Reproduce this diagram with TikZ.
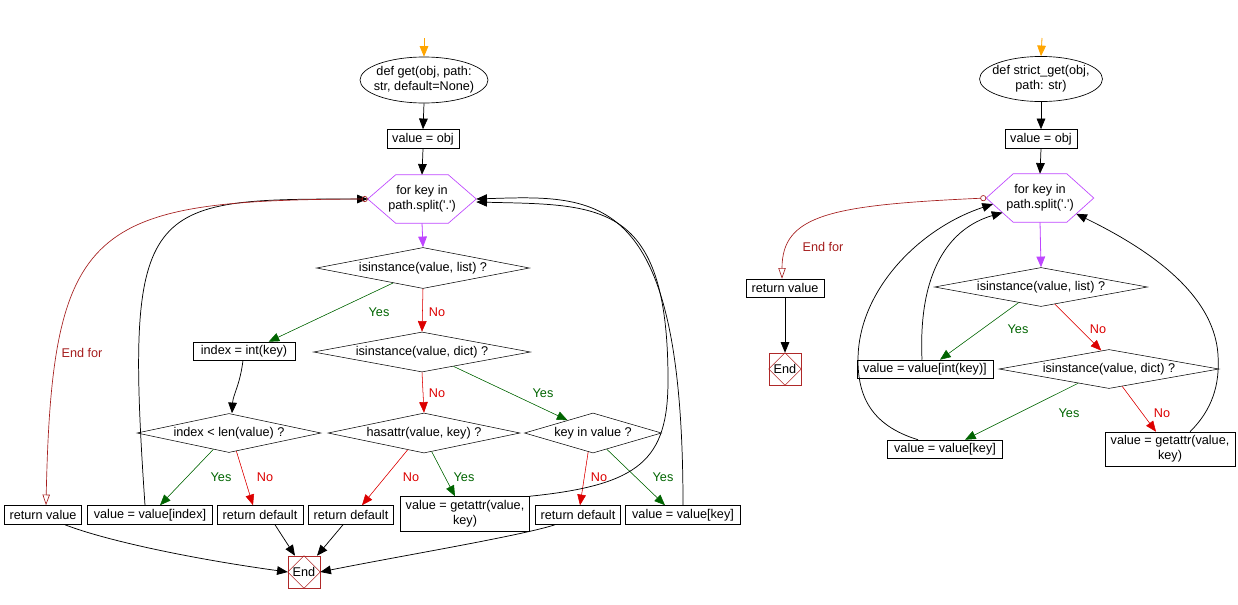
\documentclass[tikz,border=0pt]{standalone}
\usepackage{fontspec}
\setmainfont{Liberation Sans}[Ligatures=TeXOff]
\usetikzlibrary{shapes.geometric,arrows.meta,calc}
\definecolor{cOrange}{RGB}{255,165,0}
\definecolor{cPurple}{RGB}{190,70,255}
\definecolor{cGreen}{RGB}{0,100,0}
\definecolor{cRed}{RGB}{220,0,0}
\definecolor{cEndFor}{RGB}{165,30,30}
\definecolor{cEnd}{RGB}{175,40,40}
\newcommand{\pxu}[1]{#1*0.75pt}
\begin{document}
\begin{tikzpicture}[x=0.75pt,y=-0.75pt,
  every node/.style={font=\fontsize{9.5}{11.5}\selectfont},
  box/.style={draw, rectangle, inner sep=1pt, minimum height=\pxu{19}, align=center},
  dia/.style={draw, diamond, aspect=5, inner sep=0pt, align=center},
  holder/.style={rectangle, inner sep=0pt, align=center},
  endbox/.style={draw=cEnd, rectangle, inner sep=0pt, minimum size=\pxu{32}},
  arr/.style={-{Triangle[length=8pt,width=6.5pt]}, line width=0.6pt},
  garr/.style={arr, draw=cGreen, fill=cGreen, line width=0.4pt},
  rarr/.style={arr, draw=cRed, fill=cRed, line width=0.4pt},
  oarr/.style={arr, draw=cOrange, fill=cOrange},
  parr/.style={arr, draw=cPurple, fill=cPurple},
  barr/.style={arr, line width=0.55pt},
  efarr/.style={{Circle[open,length=4.5pt]}-{Triangle[open,length=8pt,width=5.5pt]}, draw=cEndFor, line width=0.5pt},
  lblg/.style={text=cGreen, inner sep=0pt},
  lblr/.style={text=cRed, inner sep=0pt},
  lble/.style={text=cEndFor, inner sep=0pt},
  hexline/.style={draw=cPurple, line width=0.5pt},
  ellline/.style={draw, line width=0.5pt}
]
\useasboundingbox (0,0) rectangle (1238,604);

% ================= LEFT =================
\coordinate (s1) at (424,38);
\node[holder, minimum width=\pxu{128}, minimum height=\pxu{46}] (start1) at (424,80) {def get(obj, path:\\str, default=None)};
\draw[ellline] (start1.center) ellipse [x radius=48pt, y radius=17.25pt];
\node[box, minimum width=\pxu{72}] (v1) at (423,139) {value = obj};
\node[holder, minimum width=\pxu{108}, minimum height=\pxu{48}] (loop1) at (422,199) {for key in\\path.split('.')};
\coordinate (loop1-tl) at ([xshift=21pt]loop1.north west);
\coordinate (loop1-tr) at ([xshift=-21pt]loop1.north east);
\coordinate (loop1-bl) at ([xshift=21pt]loop1.south west);
\coordinate (loop1-br) at ([xshift=-21pt]loop1.south east);
\draw[hexline] (loop1.west) -- (loop1-tl) -- (loop1-tr) -- (loop1.east) -- (loop1-br) -- (loop1-bl) -- cycle;

\node[dia, minimum width=\pxu{213}, minimum height=\pxu{41}] (d1) at (423,268) {isinstance(value, list) ?};
\node[dia, minimum width=\pxu{217}, minimum height=\pxu{40}] (d2) at (422,352) {isinstance(value, dict) ?};
\node[box, minimum width=\pxu{102}, minimum height=\pxu{18}] (bidx) at (244,351) {index = int(key)};
\node[dia, minimum width=\pxu{184}, minimum height=\pxu{39}] (d3) at (229,433) {index < len(value) ?};
\node[dia, minimum width=\pxu{192}, minimum height=\pxu{40}] (d4) at (424,433) {hasattr(value, key) ?};
\node[dia, minimum width=\pxu{137}, minimum height=\pxu{40}] (d5) at (593,433) {key in value ?};

\node[box, minimum width=\pxu{77}] (retv) at (43,515) {return value};
\node[box, minimum width=\pxu{125}] (vidx) at (150,515) {value = value[index]};
\node[box, minimum width=\pxu{86}] (rda) at (260,515) {return default};
\node[box, minimum width=\pxu{85}] (rdb) at (351,515) {return default};
\node[box, minimum width=\pxu{129}, minimum height=\pxu{35}] (gat) at (465,514) {value = getattr(value,\\key)};
\node[box, minimum width=\pxu{85}] (rdc) at (578,515) {return default};
\node[box, minimum width=\pxu{115}] (vkey) at (683,515) {value = value[key]};

\node[endbox] (end1) at (304,572) {};
\draw[cEnd, line width=0.4pt] (end1.north) -- (end1.east) -- (end1.south) -- (end1.west) -- cycle;
\node at (end1.center) {End};

% arrows left
\draw[oarr] (s1) -- (start1.north);
\draw[barr] (start1.south) -- (v1.north);
\draw[barr] (v1.south) -- (loop1.north);
\draw[parr] (loop1.south) -- (d1.north);
\draw[garr] ($(d1.south)!0.28!(d1.west)$) -- ($(bidx.north east)!0.26!(bidx.north west)$);
\draw[rarr] (d1.south) -- (d2.north);
\draw[barr] ($(bidx.south)+(-1,0)$) .. controls (240,385) and (233,395) .. ($(d3.north)+(3,0)$);
\draw[garr] ($(d2.south)!0.29!(d2.east)$) -- ($(d5.north)!0.37!(d5.west)$);
\draw[rarr] (d2.south) -- (d4.north);
\draw[garr] ($(d3.south)!0.17!(d3.west)$) -- ($(vidx.north)+(10,0)$);
\draw[rarr] ($(d3.south)!0.08!(d3.east)$) -- ($(rda.north)+(-7,0)$);
\draw[rarr] ($(d4.south)!0.17!(d4.west)$) -- ($(rdb.north)+(11,0)$);
\draw[garr] ($(d4.south)!0.08!(d4.east)$) -- ($(gat.north)+(-10,0)$);
\draw[rarr] ($(d5.south)!0.07!(d5.west)$) -- ($(rdc.north)+(2,0)$);
\draw[garr] ($(d5.south)!0.2!(d5.east)$) -- ($(vkey.north)+(-18,0)$);
\draw[barr] ($(rda.south)+(15,0)$) -- ($(end1.north)+(-9,0)$);
\draw[barr] ($(rdb.south)+(-8,0)$) -- ($(end1.north)+(13,0)$);
\draw[barr] ($(retv.south)+(22,0)$) .. controls (110,542) and (200,560) .. (end1.west);
\draw[barr] ($(rdc.south)+(-23,0)$) .. controls (520,536) and (400,556) .. (end1.east);
\draw[barr] ($(vidx.north)+(-5,0)$) .. controls (124,200) and (145,199) .. (loop1.west);
\draw[efarr] (loop1.west) .. controls (90,200) and (52,225) .. ($(retv.north)+(3,0)$);
\draw[barr] (gat.north east) .. controls (640,485) and (668,460) .. (668,380) .. controls (668,200) and (600,205) .. ($(loop1.east)+(0,3)$);
\draw[barr] (vkey.north) .. controls (683,190) and (600,195) .. (loop1.east);

% labels left
\node[lblg] (l1) at (379,312) {Yes};
\node[lblr] (l2) at (437,312) {No};
\node[lblr] (l3) at (437,393) {No};
\node[lblg] (l4) at (543,393) {Yes};
\node[lblg] (l5) at (221,477) {Yes};
\node[lblr] (l6) at (265,477) {No};
\node[lblr] (l7) at (411,477) {No};
\node[lblg] (l8) at (464,477) {Yes};
\node[lblr] (l9) at (599,477) {No};
\node[lblg] (l10) at (663,477) {Yes};
\node[lble] (l11) at (82,353) {End for};

% ================= RIGHT =================
\coordinate (s2) at (1042,38);
\node[holder, minimum width=\pxu{123}, minimum height=\pxu{45}] (start2) at (1041,79) {def strict\_get(obj,\\path: str)};
\draw[ellline] (start2.center) ellipse [x radius=46.1pt, y radius=16.9pt];
\node[box, minimum width=\pxu{72}] (v2) at (1041,139) {value = obj};
\node[holder, minimum width=\pxu{107}, minimum height=\pxu{48}] (loop2) at (1040,198) {for key in\\path.split('.')};
\coordinate (loop2-tl) at ([xshift=20.25pt]loop2.north west);
\coordinate (loop2-tr) at ([xshift=-20.25pt]loop2.north east);
\coordinate (loop2-bl) at ([xshift=20.25pt]loop2.south west);
\coordinate (loop2-br) at ([xshift=-20.25pt]loop2.south east);
\draw[hexline] (loop2.west) -- (loop2-tl) -- (loop2-tr) -- (loop2.east) -- (loop2-br) -- (loop2-bl) -- cycle;

\node[dia, minimum width=\pxu{213}, minimum height=\pxu{39}] (e1) at (1041,287) {isinstance(value, list) ?};
\node[dia, minimum width=\pxu{220}, minimum height=\pxu{39}] (e2) at (1109,369) {isinstance(value, dict) ?};
\node[box, minimum width=\pxu{136}, minimum height=\pxu{18}] (vik) at (925,369) {value = value[int(key)]};
\node[box, minimum width=\pxu{115}, minimum height=\pxu{18}] (vk2) at (945,449) {value = value[key]};
\node[box, minimum width=\pxu{130}, minimum height=\pxu{34}] (gat2) at (1170,449) {value = getattr(value,\\key)};
\node[box, minimum width=\pxu{78}, minimum height=\pxu{18}] (retv2) at (785,288) {return value};
\node[endbox] (end2) at (785,369) {};
\draw[cEnd, line width=0.4pt] (end2.north) -- (end2.east) -- (end2.south) -- (end2.west) -- cycle;
\node at (end2.center) {End};

% arrows right
\draw[oarr] (s2) -- (start2.north);
\draw[barr] (start2.south) -- (v2.north);
\draw[barr] (v2.south) -- (loop2.north);
\draw[parr] (loop2.south) -- (e1.north);
\draw[garr] ($(e1.south)!0.21!(e1.west)$) -- ($(vik.north)+(15,0)$);
\draw[rarr] ($(e1.south)!0.13!(e1.east)$) -- ($(e2.north)!0.07!(e2.west)$);
\draw[garr] ($(e2.south)!0.28!(e2.west)$) -- ($(vk2.north)+(20,0)$);
\draw[rarr] ($(e2.south)!0.12!(e2.east)$) -- ($(gat2.north)+(-14,0)$);
\draw[barr] (retv2.south) -- (end2.north);
\draw[barr] ($(vik.north)+(-3,0)$) .. controls (918,270) and (950,228) .. ($(loop2.west)!0.6!(loop2-bl)$);
\draw[barr] ($(vk2.north)+(-27,0)$) .. controls (870,425) and (858,395) .. (858,360) .. controls (858,290) and (920,228) .. ($(loop2.west)!0.25!(loop2-bl)$);
\draw[barr] ($(gat2.north)+(20,0)$) .. controls (1212,410) and (1220,385) .. (1218,355) .. controls (1214,290) and (1140,245) .. ($(loop2.east)!0.65!(loop2-br)$);
\draw[efarr] (loop2.west) .. controls (830,205) and (782,215) .. ($(retv2.north)+(-3,0)$);

% labels right
\node[lblg] (r1) at (1018,329) {Yes};
\node[lblr] (r2) at (1098,329) {No};
\node[lblg] (r3) at (1069,413) {Yes};
\node[lblr] (r4) at (1162,413) {No};
\node[lble] (r5) at (823,247) {End for};
\end{tikzpicture}
\end{document}
